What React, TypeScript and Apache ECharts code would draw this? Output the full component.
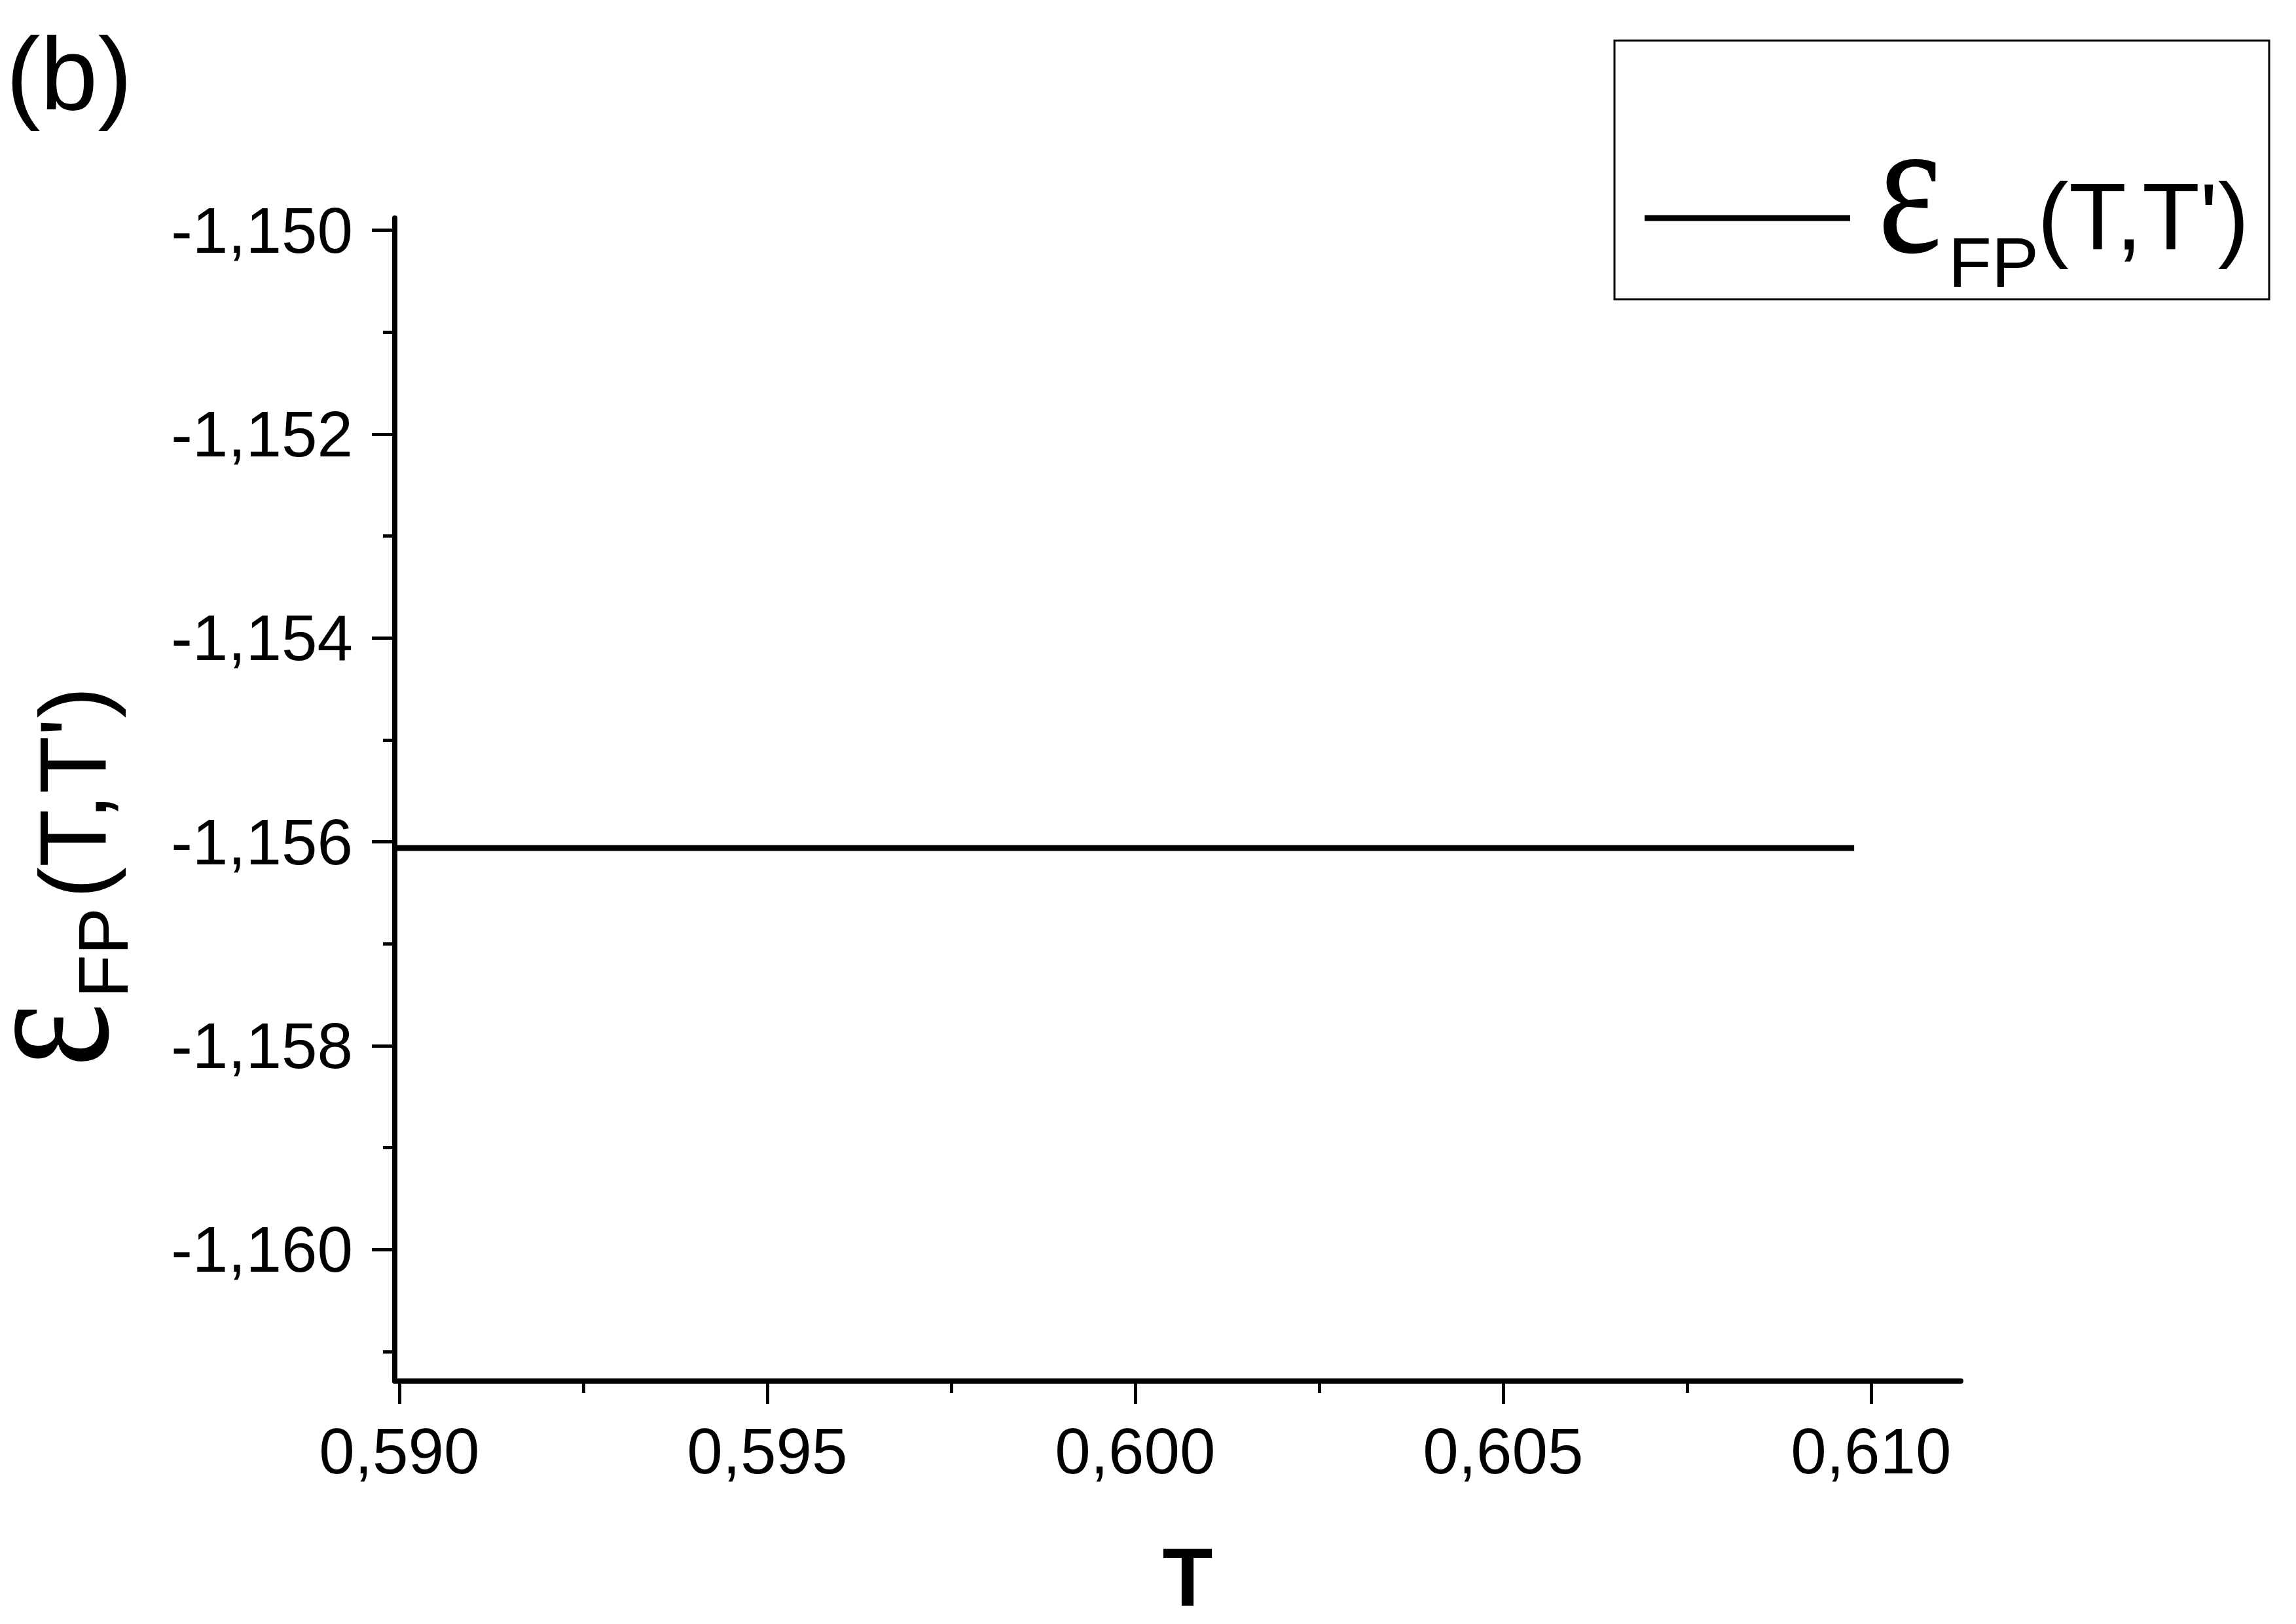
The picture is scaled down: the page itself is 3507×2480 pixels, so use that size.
import React, { useEffect, useRef } from "react";
import * as echarts from "echarts";

// ---- data ----
const T_VALUES = [0.58994, 0.60977];
const EPS_VALUES = [-1.15606, -1.15606];

const X_MAJOR = [0.59, 0.595, 0.6, 0.605, 0.61];
const X_MINOR = [0.5925, 0.5975, 0.6025, 0.6075];
const Y_MAJOR = [-1.15, -1.152, -1.154, -1.156, -1.158, -1.16];
const Y_MINOR = [-1.151, -1.153, -1.155, -1.157, -1.159, -1.161];

const X_MIN = 0.589938;
const X_MAX = 0.611219;
const Y_MIN = -1.16129;
const Y_MAX = -1.14988;

const SANS = "Liberation Sans";
const SERIF = "Liberation Serif";

const fmt = (v: number) => v.toFixed(3).replace(".", ",");

export default function App() {
  const ref = useRef<HTMLDivElement>(null);

  useEffect(() => {
    if (!ref.current) return;
    const chart = echarts.init(ref.current, null, { renderer: "svg" });

    const seriesData = T_VALUES.map((t, i) => [t, EPS_VALUES[i]]);

    const tickStyle = { color: "#000", width: 5 };

    const epsStyle = {
      text: "ε",
      fontSize: 300,
      fontFamily: SERIF,
      fill: "#000",
      textAlign: "left",
      verticalAlign: "middle",
      lineHeight: 120,
    };
    const fpStyle = {
      text: "FP",
      fontSize: 108,
      fontFamily: SANS,
      fill: "#000",
      textAlign: "left",
      verticalAlign: "middle",
      lineHeight: 110,
    };
    const ttStyle = {
      text: "(T,T')",
      fontSize: 144,
      fontFamily: SANS,
      fill: "#000",
      textAlign: "left",
      verticalAlign: "middle",
      lineHeight: 150,
    };

    const option: any = {
      animation: false,
      backgroundColor: "#fff",
      grid: { left: 603, right: 512, top: 333, bottom: 371, containLabel: false },
      xAxis: [
        {
          type: "value",
          min: X_MIN,
          max: X_MAX,
          position: "bottom",
          axisLine: { show: true, onZero: false, lineStyle: { color: "#000", width: 8 } },
          axisTick: { show: true, customValues: X_MAJOR, length: 35, lineStyle: tickStyle },
          axisLabel: {
            show: true,
            customValues: X_MAJOR,
            formatter: (v: number) => fmt(v),
            fontSize: 98,
            fontFamily: SANS,
            color: "#000",
            margin: 58,
          },
          splitLine: { show: false },
        },
        {
          type: "value",
          min: X_MIN,
          max: X_MAX,
          position: "bottom",
          axisLine: { show: false, onZero: false },
          axisTick: { show: true, customValues: X_MINOR, length: 18, lineStyle: tickStyle },
          axisLabel: { show: false },
          splitLine: { show: false },
        },
      ],
      yAxis: [
        {
          type: "value",
          min: Y_MIN,
          max: Y_MAX,
          position: "left",
          axisLine: { show: true, onZero: false, lineStyle: { color: "#000", width: 8 } },
          axisTick: { show: true, customValues: Y_MAJOR, length: 35, lineStyle: tickStyle },
          axisLabel: {
            show: true,
            customValues: Y_MAJOR,
            formatter: (v: number) => fmt(v),
            fontSize: 98,
            fontFamily: SANS,
            color: "#000",
            margin: 64,
          },
          splitLine: { show: false },
        },
        {
          type: "value",
          min: Y_MIN,
          max: Y_MAX,
          position: "left",
          axisLine: { show: false, onZero: false },
          axisTick: { show: true, customValues: Y_MINOR, length: 18, lineStyle: tickStyle },
          axisLabel: { show: false },
          splitLine: { show: false },
        },
      ],
      series: [
        {
          name: "εFP(T,T')",
          type: "line",
          xAxisIndex: 0,
          yAxisIndex: 0,
          data: seriesData,
          symbol: "none",
          silent: true,
          lineStyle: { color: "#000", width: 9, cap: "butt" },
        },
      ],
      graphic: [
        // panel label
        {
          type: "text",
          x: 9,
          y: 112,
          style: {
            text: "(b)",
            fontSize: 158,
            fontFamily: SANS,
            fill: "#000",
            textAlign: "left",
            verticalAlign: "middle",
            lineHeight: 160,
          },
        },
        // x axis title
        {
          type: "text",
          x: 1814,
          y: 2408,
          style: {
            text: "T",
            fontSize: 126,
            fontWeight: "bold",
            fontFamily: SANS,
            fill: "#000",
            textAlign: "center",
            verticalAlign: "middle",
            lineHeight: 110,
          },
        },
        // y axis title (rotated)
        {
          type: "group",
          x: 162,
          y: 1630,
          rotation: Math.PI / 2,
          children: [
            { type: "text", x: 0, y: -100, scaleX: 0.78, style: epsStyle },
            { type: "text", x: 106, y: -5, style: fpStyle },
            { type: "text", x: 258, y: -50, style: ttStyle },
          ],
        },
        // legend box
        {
          type: "rect",
          shape: { x: 2466, y: 62, width: 1000, height: 395 },
          style: { fill: "#fff", stroke: "#000", lineWidth: 3 },
          z: 10,
        },
        {
          type: "line",
          shape: { x1: 2512, y1: 333, x2: 2826, y2: 333 },
          style: { stroke: "#000", lineWidth: 9 },
          z: 11,
        },
        { type: "text", x: 2868, y: 283, scaleX: 0.78, z: 11, style: epsStyle },
        { type: "text", x: 2976, y: 400, z: 11, style: fpStyle },
        { type: "text", x: 3112, y: 331, z: 11, style: ttStyle },
      ],
    };

    chart.setOption(option);
    return () => chart.dispose();
  }, []);

  return (
    <div
      ref={ref}
      style={{ position: "absolute", left: 0, top: 0, width: 3507, height: 2480, background: "#fff" }}
    />
  );
}
